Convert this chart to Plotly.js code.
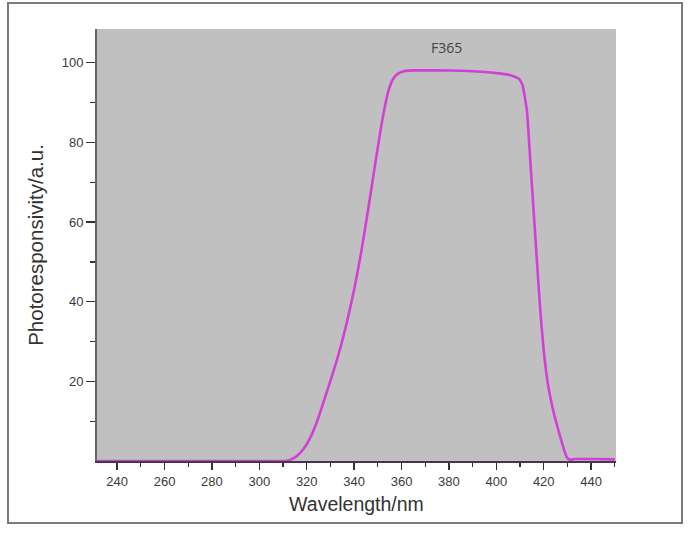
<!DOCTYPE html>
<html>
<head>
<meta charset="utf-8">
<script src="https://cdn.plot.ly/plotly-3.0.1.min.js"></script>
<style>
html,body{margin:0;padding:0;background:#fff;}
#chart{width:700px;height:534px;}
</style>
</head>
<body>
<div id="chart"></div>
<script>
// Data
const wavelength = [231, 260, 290, 305, 311, 313.5, 316, 319, 322, 325, 328, 331, 334, 337, 340, 343, 346, 349, 352, 354.5, 356.5, 358.5, 361, 365, 375, 385, 395, 402, 406, 409.5, 411, 412, 413, 414, 415, 416, 417, 418, 419, 420, 421, 422, 423.5, 425, 427, 428.5, 429.7, 431, 433, 440, 450];
const response   = [0, 0, 0, 0, 0, 0.4, 1.3, 3.3, 6.5, 11, 16.5, 22, 28, 35, 43, 52.5, 63.5, 75, 86, 93, 96, 97.3, 97.9, 98.1, 98.1, 98.0, 97.7, 97.3, 96.9, 96, 94.5, 91.5, 87.5, 78.5, 69.5, 60.5, 51.5, 42.5, 34.5, 27.8, 22.5, 18.5, 14, 10.3, 6, 3, 1.0, 0.3, 0.5, 0.5, 0.4];
const seriesName = "F365";
const xTickVals = [240, 260, 280, 300, 320, 340, 360, 380, 400, 420, 440];
const yTickVals = [20, 40, 60, 80, 100];
const yMinorVals = [10, 30, 50, 70, 90];

const traces = [{
  x: wavelength,
  y: response,
  type: 'scatter',
  mode: 'lines',
  name: seriesName,
  line: {color: '#d23fd6', width: 2.6, shape: 'spline', smoothing: 0.5},
  hoverinfo: 'x+y'
}];

const tickFont = {family: 'Liberation Sans, Arial, sans-serif', size: 13, color: '#3a3a3a'};

const layout = {
  width: 700,
  height: 534,
  margin: {l: 97, r: 84, t: 29, b: 73},
  paper_bgcolor: '#ffffff',
  plot_bgcolor: '#c0c0c0',
  showlegend: false,
  xaxis: {
    range: [231.5, 450.5],
    tickmode: 'array',
    tickvals: xTickVals,
    ticks: 'outside',
    ticklen: 7,
    tickwidth: 1.3,
    tickcolor: '#333',
    minor: {tickmode: 'linear', tick0: 230, dtick: 10, ticks: 'outside', ticklen: 4, tickwidth: 1.2, tickcolor: '#333'},
    showgrid: false,
    zeroline: false,
    showline: true,
    linecolor: '#4a3550',
    linewidth: 2,
    tickfont: tickFont,
    title: {text: 'Wavelength/nm', font: {family: 'Liberation Sans, Arial, sans-serif', size: 19.5, color: '#333'}, standoff: 10}
  },
  yaxis: {
    range: [0, 108.5],
    tickmode: 'array',
    tickvals: yTickVals,
    ticks: 'outside',
    ticklen: 9,
    tickwidth: 1.3,
    tickcolor: '#333',
    minor: {tickmode: 'array', tickvals: yMinorVals, ticks: 'outside', ticklen: 5, tickwidth: 1.2, tickcolor: '#333'},
    showgrid: false,
    zeroline: false,
    showline: true,
    linecolor: '#666',
    linewidth: 2,
    tickfont: tickFont,
    title: {text: 'Photoresponsivity/a.u.', font: {family: 'Liberation Sans, Arial, sans-serif', size: 20.5, color: '#333'}, standoff: 13}
  },
  annotations: [{
    x: 379, y: 103.8, xref: 'x', yref: 'y',
    text: seriesName, showarrow: false,
    font: {family: 'Open Sans, Noto Sans, sans-serif', size: 14, color: '#444'}
  }],
  shapes: [{
    type: 'rect', xref: 'paper', yref: 'paper',
    x0: -0.1715, x1: 1.1272, y0: -0.1435, y1: 1.0602,
    line: {color: '#7a7a7a', width: 2}, fillcolor: 'rgba(0,0,0,0)', layer: 'below'
  }]
};

Plotly.newPlot('chart', traces, layout, {displayModeBar: false, staticPlot: true});
</script>
</body>
</html>
